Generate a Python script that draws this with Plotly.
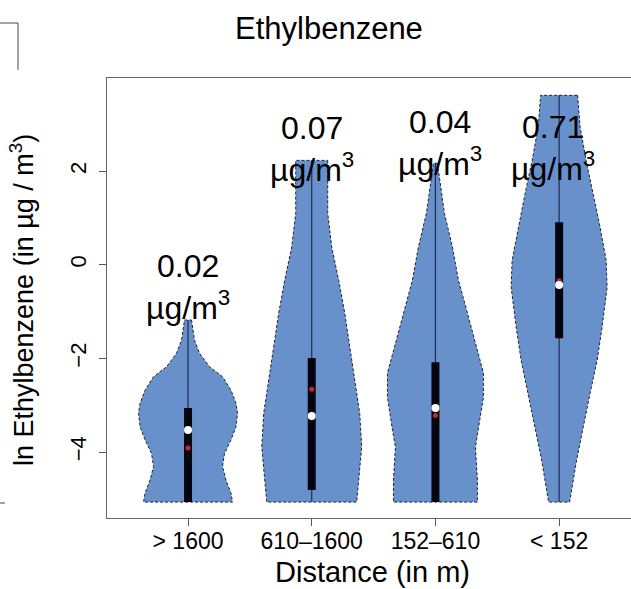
import math
import plotly.graph_objects as go

# Distance bands (category order along x)
categories = ["> 1600", "610–1600", "152–610", "< 152"]

# Geometric means (µg/m³) printed above each violin; the red dot is ln(gm)
geo_means = [0.02, 0.07, 0.04, 0.71]

# Density profile of each violin: ln-concentration levels (top -> bottom)
# and relative density at each level
levels_1 = [-1.18, -1.61, -1.89, -2.18, -2.39, -2.68, -2.96, -3.17, -3.46, -3.74, -4.03, -4.31, -4.60, -4.88, -5.07]
dens_1 = [0.07, 0.13, 0.23, 0.43, 0.69, 0.86, 0.96, 0.99, 0.96, 0.86, 0.73, 0.69, 0.76, 0.86, 0.89]

levels_2 = [2.23, 1.10, 0.38, -0.33, -1.03, -1.76, -2.46, -3.17, -3.89, -4.60, -5.07]
dens_2 = [0.32, 0.32, 0.40, 0.54, 0.66, 0.76, 0.86, 0.96, 1.00, 0.94, 0.90]

levels_3 = [2.17, 1.10, 0.38, -0.33, -1.03, -1.76, -2.31, -2.83, -3.53, -3.89, -4.60, -5.07]
dens_3 = [0.04, 0.18, 0.34, 0.46, 0.64, 0.82, 0.96, 0.96, 0.86, 0.80, 0.84, 0.84]

levels_4 = [3.62, 2.94, 2.23, 1.53, 0.80, 0.10, -0.48, -1.33, -2.04, -2.74, -3.47, -4.17, -5.07]
dens_4 = [0.37, 0.42, 0.54, 0.68, 0.82, 0.94, 0.96, 0.86, 0.76, 0.62, 0.48, 0.35, 0.21]

profile_levels = [levels_1, levels_2, levels_3, levels_4]
profile_dens = [dens_1, dens_2, dens_3, dens_4]

# Box summary on the ln scale
q_upper = [-3.06, -1.99, -2.08, 0.91]
q_lower = [-5.07, -4.81, -5.07, -1.57]
medians = [-3.53, -3.23, -3.06, -0.43]
maxima = [-1.18, 2.23, 2.17, 3.62]
minima = [-5.07, -5.07, -5.07, -5.07]

# Label anchor positions (category units, ln units)
label_x = [0.0, 1.0, 2.04, 2.95]
label_y = [-0.48, 2.47, 2.61, 2.50]

FONT = "Liberation Sans, Arial, sans-serif"
VIOLIN_FILL = "rgb(104,145,203)"
HALF_WIDTH = 0.404

W, H = 631, 589
ML, MR, MT, MB = 107, 0, 78, 71
PW, PH = W - ML - MR, H - MT - MB


def px_x(px):
    return (px - ML) / PW


def px_y(py):
    return (H - MB - py) / PH


fig = go.Figure()

for i, (lv, dn) in enumerate(zip(profile_levels, profile_dens)):
    right = [i + HALF_WIDTH * d for d in dn]
    left = [i - HALF_WIDTH * d for d in dn]
    xs = right + left[::-1] + [right[0]]
    ys = lv + lv[::-1] + [lv[0]]
    fig.add_trace(go.Scatter(
        x=xs, y=ys, mode="lines", fill="toself", fillcolor=VIOLIN_FILL,
        line=dict(color="#1e2230", width=1, dash="3px,2px"),
        hoverinfo="skip", showlegend=False,
    ))
    # whisker spanning the full range
    fig.add_trace(go.Scatter(
        x=[i, i], y=[minima[i], maxima[i]], mode="lines",
        line=dict(color="#1b2d52", width=1.2),
        hoverinfo="skip", showlegend=False,
    ))
    # interquartile bar
    fig.add_trace(go.Scatter(
        x=[i, i], y=[q_lower[i], q_upper[i]], mode="lines",
        line=dict(color="#050510", width=8),
        hoverinfo="skip", showlegend=False,
    ))

# geometric means (red) and medians (white)
fig.add_trace(go.Scatter(
    x=list(range(len(categories))), y=[math.log(g) for g in geo_means],
    mode="markers", marker=dict(color="rgb(205,35,55)", size=5),
    hoverinfo="skip", showlegend=False,
))
fig.add_trace(go.Scatter(
    x=list(range(len(categories))), y=medians,
    mode="markers", marker=dict(color="white", size=8),
    hoverinfo="skip", showlegend=False,
))

for gx, gy, g in zip(label_x, label_y, geo_means):
    fig.add_annotation(
        x=gx, y=gy, xref="x", yref="y", showarrow=False,
        text=f"{g:.2f}<br>µg/m<sup>3</sup>",
        font=dict(family=FONT, size=32, color="black"),
        xanchor="center", yanchor="middle",
    )

# chart title and axis titles
fig.add_annotation(
    x=px_x(329), y=px_y(28), xref="paper", yref="paper", showarrow=False,
    text="Ethylbenzene", font=dict(family=FONT, size=31, color="black"),
    xanchor="center", yanchor="middle",
)
fig.add_annotation(
    x=px_x(372), y=px_y(572), xref="paper", yref="paper", showarrow=False,
    text="Distance (in m)", font=dict(family=FONT, size=29, color="black"),
    xanchor="center", yanchor="middle",
)
fig.add_annotation(
    x=px_x(22), y=px_y(300), xref="paper", yref="paper", showarrow=False,
    text="ln Ethylbenzene (in µg / m<sup>3</sup>)", textangle=-90,
    font=dict(family=FONT, size=27, color="black"),
    xanchor="center", yanchor="middle",
)

# frame fragments of neighbouring panels at the left edge
frag = dict(color="#666666", width=1.2)
fig.add_shape(type="line", xref="paper", yref="paper",
              x0=px_x(0), x1=px_x(18), y0=px_y(23), y1=px_y(23), line=frag)
fig.add_shape(type="line", xref="paper", yref="paper",
              x0=px_x(18), x1=px_x(18), y0=px_y(23), y1=px_y(70), line=frag)
fig.add_shape(type="line", xref="paper", yref="paper",
              x0=px_x(0), x1=px_x(5), y0=px_y(503), y1=px_y(503), line=frag)

fig.update_layout(
    width=W, height=H,
    margin=dict(l=ML, r=MR, t=MT, b=MB, pad=0),
    paper_bgcolor="white", plot_bgcolor="white",
    font=dict(family=FONT, color="black"),
    showlegend=False,
)
fig.update_xaxes(
    range=[-0.655, 3.581], tickmode="array",
    tickvals=list(range(len(categories))), ticktext=categories,
    tickfont=dict(family=FONT, size=23, color="black"),
    ticks="outside", ticklen=7, tickcolor="#555", tickwidth=1,
    ticklabelstandoff=-5,
    showline=True, linecolor="#666", linewidth=1.2, mirror=True,
    showgrid=False, zeroline=False,
)
fig.update_yaxes(
    range=[-5.41, 3.99], tickmode="array", tickvals=[-4, -2, 0, 2],
    tickangle=-90, tickfont=dict(family=FONT, size=22, color="black"),
    ticks="outside", ticklen=7, tickcolor="#555", tickwidth=1,
    ticklabelstandoff=4,
    showline=True, linecolor="#666", linewidth=1.2, mirror=False,
    showgrid=False, zeroline=False,
)

fig.write_html("out.html")
